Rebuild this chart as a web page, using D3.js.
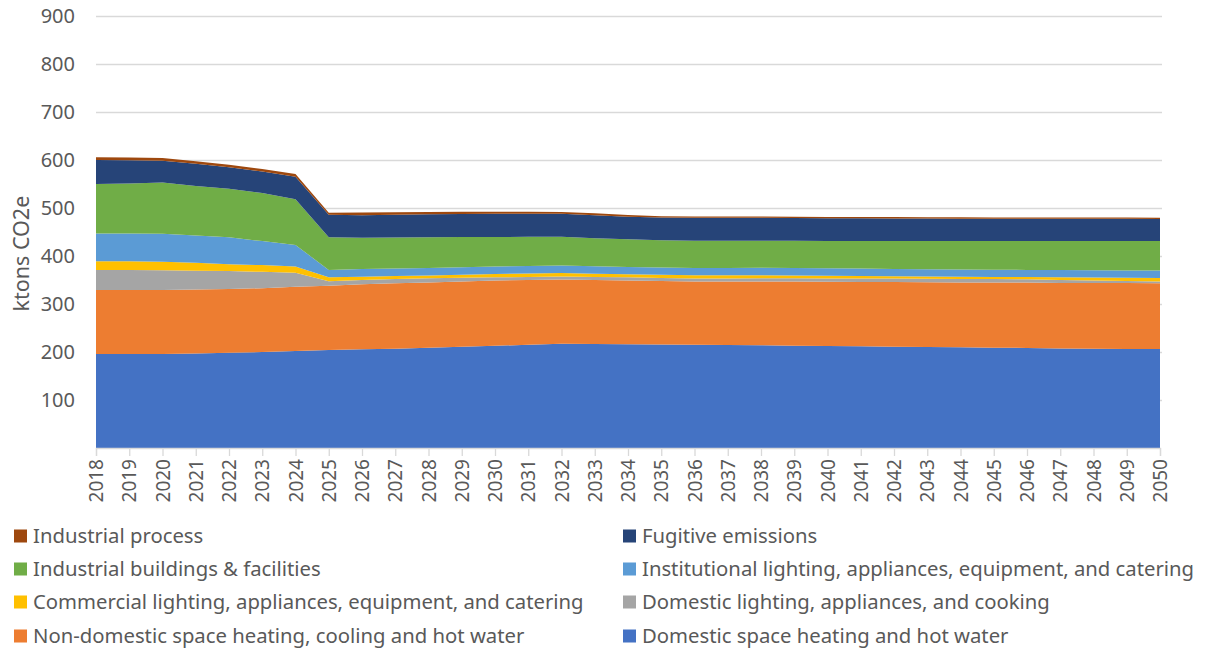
<!DOCTYPE html>
<html>
<head>
<meta charset="utf-8">
<script src="https://cdn.jsdelivr.net/npm/d3@7"></script>
<style>
  html, body { margin: 0; padding: 0; background: #fff; }
  svg { display: block; font-family: "Noto Sans", "Open Sans", sans-serif; }
</style>
</head>
<body>
<svg id="chart" width="1207" height="650"></svg>
<script>
const years = d3.range(2018, 2051).map(String);

const domesticHeating = [196,196,196,197,198.5,200,202,204,205.5,207,209,211,213,215,217,216.5,216,215.5,215,214.5,214,213,212.5,212,211,210.5,210,209,208.5,207.5,207,206.5,206];
const nonDomesticHeating = [133,133,133,133,132.5,133,134,134,135.5,136,136,136,136,135,134,133.5,133,132.5,132,132.5,133,134,134,134,135,135,135,136,136.5,136.5,137,137,137];
const domesticLighting = [42,42,41.5,39.5,37.5,34,29,9.5,9,9,8.5,7.5,6.5,6.5,6.5,6.5,6.5,6,6,6,6.5,6.5,6.5,7,7,7,7,7,6.5,6,5,4.5,4];
const commercialLighting = [18,18,17.5,16.5,14.5,14,13,8,7,6.5,6,6.5,7,7,7,6.5,6.5,7,7,7,6.5,6,6,5.5,5,5,5,4.5,4.5,5.5,6,6.5,7];
const institutionalLighting = [58,58,58.5,56.5,56,50,45,15.5,16,15.5,15.5,15.5,15.5,15.5,15.5,15.5,15,15,15,15,15.5,15.5,15.5,15.5,15,15,15,15,15,15.5,15.5,15.5,16];
const industrialBuildings = [103,104,106.5,103.5,101,100,95,68,65,64.5,64,63,61.5,61,60,58.5,58,57,57,57,56.5,57,57,57.5,58,58.5,59,59.5,60,60,60.5,61,61];
const fugitiveEmissions = [50,48.5,45.5,46,45,45,47,47,47,47.5,48,48,48.5,48,48,48,47,47,47.5,47.5,47.5,47,47,47,47,47,46.5,46.5,46.5,46.5,46.5,46.5,46];
const industrialProcess = [5.5,5.5,5.5,5.5,5,5,6,4,5.5,5,4.5,4.5,4,4,3.5,4,3.5,3,3,3,3,3,3,2.5,3,2.5,3,2.5,2.5,2.5,2.5,2.5,2.5];

const yTicks = [100,200,300,400,500,600,700,800,900];

const seriesNames = [
  "Domestic space heating and hot water",
  "Non-domestic space heating, cooling and hot water",
  "Domestic lighting, appliances, and cooking",
  "Commercial lighting, appliances, equipment, and catering",
  "Institutional lighting, appliances, equipment, and catering",
  "Industrial buildings & facilities",
  "Fugitive emissions",
  "Industrial process"
];
const seriesValues = [domesticHeating, nonDomesticHeating, domesticLighting, commercialLighting,
  institutionalLighting, industrialBuildings, fugitiveEmissions, industrialProcess];
const colors = ["#4472C4","#ED7D31","#A5A5A5","#FFC000","#5B9BD5","#70AD47","#264478","#9E480E"];

// legend order (row-major, two columns)
const legendOrder = [7, 6, 5, 4, 3, 2, 1, 0];

const svg = d3.select("#chart");
const margin = {left: 96, right: 47, top: 16, bottom: 202};
const W = 1207, H = 650;
const x = d3.scalePoint().domain(years).range([margin.left, W - margin.right]);
const y = d3.scaleLinear().domain([0, 900]).range([H - margin.bottom, margin.top]);

const table = years.map((yr, i) => {
  const o = {year: yr};
  seriesNames.forEach((n, k) => o[n] = seriesValues[k][i]);
  return o;
});
const stack = d3.stack().keys(seriesNames)(table);

// gridlines
const grid = svg.append("g")
  .attr("transform", `translate(${margin.left},0)`)
  .call(d3.axisLeft(y).tickValues(yTicks).tickSize(-(W - margin.right - margin.left + 2)).tickFormat(""));
grid.select(".domain").remove();
grid.selectAll("line").attr("stroke", "#d9d9d9").attr("stroke-width", 1.3);

// areas
const area = d3.area()
  .x(d => x(d.data.year))
  .y0(d => y(d[0]))
  .y1(d => y(d[1]));
svg.append("g").selectAll("path").data(stack).join("path")
  .attr("d", area)
  .attr("fill", (d, i) => colors[i]);

// y labels
const yAxis = svg.append("g")
  .attr("transform", `translate(${margin.left},0)`)
  .call(d3.axisLeft(y).tickValues(yTicks).tickSize(0).tickPadding(21));
yAxis.select(".domain").remove();
yAxis.selectAll("text").attr("font-size", 20).attr("fill", "#595959")
  .attr("font-family", "Noto Sans, sans-serif");

// x axis
const xAxis = svg.append("g")
  .attr("transform", `translate(0,${y(0)})`)
  .call(d3.axisBottom(x).tickSize(8).tickPadding(5));
xAxis.select(".domain").attr("stroke", "#d9d9d9").attr("stroke-width", 1.3);
xAxis.selectAll("line").attr("stroke", "#d9d9d9").attr("stroke-width", 1.3);
xAxis.selectAll("text")
  .attr("font-size", 19).attr("fill", "#595959")
  .attr("font-family", "Noto Sans, sans-serif")
  .attr("transform", "rotate(-90)")
  .attr("text-anchor", "end")
  .attr("x", -11).attr("y", 0).attr("dy", "0.35em");

// y title
svg.append("text")
  .attr("transform", `translate(29,${y(405)}) rotate(-90)`)
  .attr("text-anchor", "middle")
  .attr("font-size", 21.5).attr("fill", "#595959")
  .text("ktons CO2e");

// legend
const legendRowsY = [536, 569, 602, 636];
const colX = [14, 623];
legendOrder.forEach((k, idx) => {
  const col = idx % 2, row = Math.floor(idx / 2);
  const g = svg.append("g").attr("transform", `translate(${colX[col]},${legendRowsY[row]})`);
  g.append("rect").attr("x", 0).attr("y", -6.5).attr("width", 13).attr("height", 13).attr("fill", colors[k]);
  g.append("text").attr("x", 19).attr("y", 0).attr("dy", "0.35em")
    .attr("font-size", 20.3).attr("fill", "#595959").text(seriesNames[k]);
});
</script>
</body>
</html>
